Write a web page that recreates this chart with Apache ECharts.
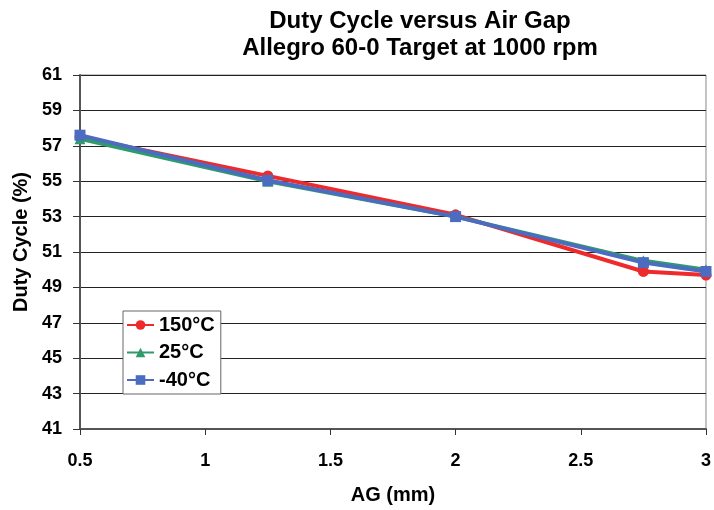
<!DOCTYPE html>
<html><head><meta charset="utf-8">
<script src="https://cdn.jsdelivr.net/npm/echarts@6/dist/echarts.min.js"></script>
<style>html,body{margin:0;padding:0;background:#fff}#c{width:714px;height:510px}</style>
</head><body><div id="c"></div>
<script>
const airGap = [0.5, 1.25, 2, 2.75, 3];
const dc150 = [57.5, 55.3, 53.1, 49.9, 49.7];
const dc25 = [57.4, 55.0, 53.0, 50.5, 50.0];
const dcm40 = [57.6, 55.05, 53.0, 50.4, 49.9];
const seriesNames = ['150°C', '25°C', '-40°C'];
const colors = ['#ee2a2a', '#2f9a6b', '#4b6cc0'];
const symbols = ['circle', 'triangle', 'rect'];
const dataSets = [dc150, dc25, dcm40];

const chart = echarts.init(document.getElementById('c'));
const F = 'Liberation Sans, Arial, sans-serif';
chart.setOption({
  animation: false,
  title: {
    text: 'Duty Cycle versus Air Gap\nAllegro 60-0 Target at 1000 rpm',
    left: 415, textAlign: 'center', top: 3,
    textStyle: {fontFamily: F, fontSize: 24, fontWeight: 'bold', color: '#000', lineHeight: 27}
  },
  legend: {
    orient: 'vertical', left: 123, top: 311,
    data: seriesNames,
    backgroundColor: '#fff', borderColor: '#666', borderWidth: 1,
    padding: [4, 6, 4, 3], itemGap: 7.5, itemWidth: 27, itemHeight: 12,
    textStyle: {fontFamily: F, fontSize: 20, fontWeight: 'bold', color: '#000', lineHeight: 20}
  },
  grid: {left: 80, right: 7, top: 75, bottom: 79, show: true, borderColor: '#888', borderWidth: 1},
  xAxis: {
    type: 'value', min: 0.5, max: 3, interval: 0.5,
    name: 'AG (mm)', nameLocation: 'middle', nameGap: 56,
    nameTextStyle: {fontFamily: F, fontSize: 20, fontWeight: 'bold', color: '#000'},
    axisLine: {show: true, lineStyle: {color: '#555', width: 2}},
    axisTick: {show: true, inside: false, length: 6, lineStyle: {color: '#333'}},
    splitLine: {show: false},
    axisLabel: {fontFamily: F, fontSize: 18, fontWeight: 'bold', color: '#000', margin: 23}
  },
  yAxis: {
    type: 'value', min: 41, max: 61, interval: 2,
    name: 'Duty Cycle (%)', nameLocation: 'middle', nameGap: 45,
    nameTextStyle: {fontFamily: F, fontSize: 20, fontWeight: 'bold', color: '#000', padding: [0, 0, 0, 20]},
    axisLine: {show: true, lineStyle: {color: '#555', width: 2}},
    axisTick: {show: true, length: 7, lineStyle: {color: '#333'}},
    splitLine: {show: true, lineStyle: {color: '#222', width: 1}},
    axisLabel: {fontFamily: F, fontSize: 18, fontWeight: 'bold', color: '#000', margin: 18}
  },
  series: dataSets.map((d, i) => ({
    name: seriesNames[i], type: 'line',
    data: airGap.map((x, j) => [x, d[j]]),
    symbol: symbols[i], symbolSize: 11,
    showAllSymbol: true,
    lineStyle: {color: colors[i], width: 4},
    itemStyle: {color: colors[i]},
    z: 2 + i
  }))
});
</script></body></html>
